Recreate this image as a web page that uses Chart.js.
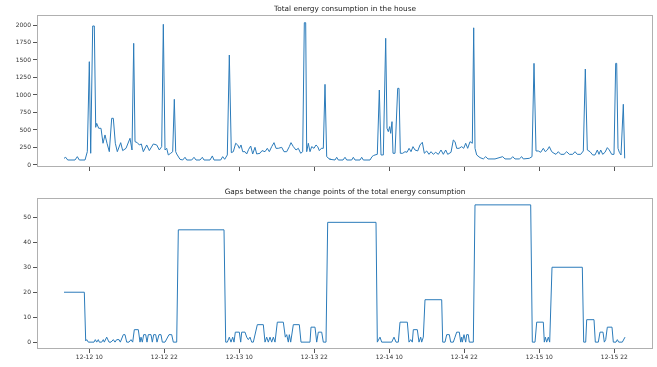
<!DOCTYPE html>
<html>
<head>
<meta charset="utf-8">
<script src="https://cdn.jsdelivr.net/npm/chart.js@4.4.0/dist/chart.umd.min.js"></script>
<style>
    body { margin: 0; background: #fff; }
    canvas { position: absolute; left: 0; }
    #energyChart { top: 0; }
    #gapChart { top: 180px; }
</style>
</head>
<body>
<canvas id="energyChart" width="657" height="180"></canvas>
<canvas id="gapChart" width="657" height="187"></canvas>
<script>
// Time axis is in hours counted from 12-12 00:00
const tickHours = [10, 22, 34, 46, 58, 70, 82, 94];
const tickLabels = ['12-12 10', '12-12 22', '12-13 10', '12-13 22', '12-14 10', '12-14 22', '12-15 10', '12-15 22'];

const energyTicks = [0, 250, 500, 750, 1000, 1250, 1500, 1750, 2000];
const gapTicks = [0, 10, 20, 30, 40, 50];

// Total energy consumption
const energyHours = [5.95, 6.22, 6.54, 7.71, 8.08, 8.40, 9.31, 9.68, 10.0, 10.22,
    10.54, 10.80, 11.02, 11.18, 11.50, 11.87, 12.19, 12.51, 12.83, 13.20,
    13.58, 13.84, 14.16, 14.48, 15.02, 15.34, 15.87, 16.51, 16.83, 17.10,
    17.31, 17.68, 18.0, 18.32, 18.64, 19.18, 19.60, 20.24, 20.78, 21.20,
    21.58, 21.84, 22.11, 22.38, 22.64, 23.02, 23.34, 23.60, 23.82, 23.98,
    24.51, 24.94, 25.31, 25.58, 26.38, 26.75, 27.07, 27.71, 28.08, 28.35,
    29.31, 29.68, 29.95, 31.02, 31.34, 31.66, 32.08, 32.40, 32.72, 33.04,
    33.42, 33.74, 34.0, 34.27, 34.54, 34.91, 35.18, 35.50, 35.82, 36.14,
    36.51, 36.78, 37.31, 37.63, 38.11, 38.48, 38.80, 39.18, 39.55, 39.87,
    40.24, 40.78, 41.15, 41.58, 42.0, 42.27, 42.64, 43.07, 43.44, 43.82,
    44.14, 44.40, 44.62, 44.78, 45.04, 45.31, 45.58, 45.95, 46.27, 46.54,
    46.80, 47.12, 47.44, 47.71, 47.98, 48.35, 48.51, 49.31, 49.58, 49.84,
    50.59, 50.91, 51.18, 51.98, 52.24, 52.51, 53.31, 53.58, 53.84, 54.91,
    55.23, 55.44, 55.71, 56.08, 56.40, 56.67, 57.04, 57.42, 57.63, 57.84,
    58.06, 58.22, 58.43, 58.59, 58.91, 59.34, 59.55, 59.76, 60.14, 60.51,
    60.83, 61.16, 61.47, 61.79, 62.11, 62.54, 62.91, 63.28, 63.60, 63.98,
    64.35, 64.67, 65.04, 65.42, 65.84, 66.27, 66.64, 67.02, 67.34, 67.87,
    68.24, 68.51, 68.78, 69.16, 69.58, 69.90, 70.22, 70.54, 70.91, 71.28,
    71.50, 71.71, 71.98, 72.51, 73.04, 73.42, 73.79, 74.11, 74.91, 76.14,
    76.51, 77.42, 77.74, 78.11, 78.80, 79.18, 79.44, 80.40, 80.83, 81.15,
    81.47, 81.84, 82.22, 82.64, 82.96, 83.28, 83.60, 83.98, 84.35, 84.67,
    85.04, 85.42, 85.95, 86.38, 86.80, 87.34, 87.71, 88.08, 88.62, 89.04,
    89.36, 89.68, 90.11, 90.54, 90.91, 91.28, 91.55, 91.82, 92.14, 92.51,
    92.88, 93.20, 93.58, 93.95, 94.22, 94.38, 94.59, 94.80, 95.07, 95.44,
    95.66];
const energyValues = [95, 110, 71, 71, 119, 71, 71, 190, 1476, 167,
    1986, 1986, 538, 595, 524, 524, 310, 429, 310, 190,
    667, 667, 310, 190, 319, 205, 238, 381, 214, 1738,
    333, 319, 286, 300, 190, 286, 205, 300, 286, 214,
    262, 2010, 214, 238, 143, 167, 190, 938, 190, 157,
    81, 71, 110, 71, 71, 110, 71, 71, 110, 71,
    71, 129, 71, 71, 119, 81, 143, 1571, 176, 190,
    310, 286, 238, 286, 190, 190, 157, 224, 271, 157,
    252, 157, 167, 205, 190, 238, 190, 262, 319, 238,
    238, 252, 190, 190, 262, 319, 262, 214, 238, 167,
    190, 2033, 2033, 190, 310, 190, 262, 238, 286, 262,
    205, 238, 238, 1152, 119, 90, 81, 71, 110, 71,
    71, 110, 71, 71, 110, 71, 71, 110, 71, 71,
    119, 133, 143, 152, 1071, 143, 143, 1810, 524, 476,
    548, 452, 619, 167, 167, 1095, 1095, 167, 167, 190,
    181, 238, 190, 262, 214, 200, 286, 324, 167, 200,
    152, 190, 152, 181, 152, 214, 152, 214, 152, 181,
    357, 333, 238, 238, 262, 238, 310, 238, 333, 310,
    1960, 238, 143, 105, 86, 119, 86, 86, 86, 119,
    86, 86, 119, 86, 86, 119, 86, 95, 119, 1452,
    200, 200, 181, 238, 190, 214, 262, 190, 167, 152,
    190, 152, 152, 190, 152, 152, 190, 152, 152, 200,
    1371, 214, 190, 143, 143, 214, 152, 214, 152, 181,
    248, 214, 152, 152, 1452, 1452, 238, 181, 143, 867,
    95];

// Gaps between change points
const gapHours = [5.95, 9.20, 9.42, 9.58, 9.84, 10.75, 10.96, 11.18, 11.44, 11.60,
    11.98, 12.24, 12.40, 12.78, 13.15, 13.47, 13.84, 14.11, 14.38, 14.75,
    14.96, 15.44, 15.71, 15.98, 16.35, 16.67, 16.94, 17.20, 17.84, 18.11,
    18.27, 18.48, 18.70, 19.02, 19.23, 19.44, 19.87, 20.08, 20.30, 20.62,
    20.83, 21.15, 21.47, 21.68, 22.11, 22.75, 23.18, 23.44, 23.98, 24.24,
    31.55, 31.82, 32.08, 32.40, 32.67, 32.94, 33.15, 33.36, 34.0, 34.22,
    34.38, 34.91, 35.18, 35.44, 35.71, 35.98, 36.24, 36.88, 37.84, 38.11,
    38.38, 38.64, 38.91, 39.18, 39.44, 39.71, 40.08, 41.04, 41.36, 41.58,
    41.84, 42.0, 42.22, 42.64, 43.60, 43.87, 45.31, 45.47, 46.11, 46.38,
    46.64, 47.18, 47.44, 47.87, 48.14, 55.87, 56.08, 56.51, 56.78, 58.38,
    58.75, 59.07, 59.44, 59.71, 60.88, 61.15, 61.42, 61.68, 61.84, 62.48,
    62.75, 63.02, 63.18, 63.44, 63.71, 66.38, 66.54, 66.91, 67.18, 67.60,
    67.82, 68.24, 68.51, 68.78, 69.20, 69.42, 69.58, 69.68, 69.95, 70.22,
    70.38, 70.64, 70.80, 71.44, 71.71, 80.62, 80.88, 81.31, 81.58, 82.64,
    82.80, 82.96, 83.18, 83.44, 83.66, 84.03, 88.88, 89.10, 89.42, 89.58,
    90.75, 90.96, 91.44, 91.71, 92.19, 92.40, 92.62, 92.88, 93.63, 93.84,
    94.27, 94.48, 94.70, 95.28, 95.71];
const gapValues = [20, 20, 0.5, 1, 0, 0, 1, 0, 1, 0,
    0, 1, 0, 2, 0, 0, 1, 0, 1, 1,
    0, 3, 3, 0, 0, 1, 0, 5, 5, 0,
    2, 0, 3, 3, 0, 3, 3, 0, 3, 3,
    0, 3, 3, 0, 0, 3, 3, 0, 0, 45,
    45, 0, 0, 2, 0, 2, 0, 4, 4, 0,
    4, 4, 2, 1, 2, 0, 0, 7, 7, 0,
    2, 0, 2, 0, 2, 0, 8, 8, 2, 3,
    0, 3, 0, 7, 7, 0, 0, 6, 6, 0,
    4, 4, 0, 0, 48, 48, 0, 2, 0, 0,
    2, 0, 0, 8, 8, 0, 1, 0, 5, 5,
    0, 2, 0, 2, 17, 17, 0, 0, 3, 3,
    0, 0, 2, 4, 4, 0, 2, 0, 3, 0,
    3, 3, 0, 0, 55, 55, 0, 0, 8, 8,
    0, 2, 0, 2, 0, 30, 30, 0, 0, 9,
    9, 0, 0, 4, 4, 0, 1, 6, 6, 0,
    0, 1, 0, 0, 2];

const FONT = 'DejaVu Sans';
const LINE = '#2b7bba';

// box round the plot area plus the title centred over it (matplotlib style)
const framePlugin = {
    id: 'frame',
    afterDraw(chart, args, opts) {
        const { ctx, chartArea: a } = chart;
        ctx.save();
        ctx.strokeStyle = '#b0b0b0';
        ctx.lineWidth = 1;
        ctx.strokeRect(Math.round(a.left) + 0.5, Math.round(a.top) + 0.5,
            Math.round(a.right - a.left) - 1, Math.round(a.bottom - a.top) - 1);
        ctx.fillStyle = '#222';
        ctx.font = '7.3px "' + FONT + '"';
        ctx.textAlign = 'center';
        ctx.textBaseline = 'middle';
        ctx.fillText(opts.text, (a.left + a.right) / 2, a.top - opts.gap);
        ctx.restore();
    }
};

const toPoints = (xs, ys) => xs.map((x, i) => ({ x: x, y: ys[i] }));

const xAxis = (showLabels, height) => ({
    type: 'linear',
    min: 1.63,
    max: 100.19,
    afterBuildTicks: (s) => { s.ticks = tickHours.map(v => ({ value: v })); },
    afterFit: (s) => { s.height = height; },
    grid: { drawOnChartArea: false, tickLength: 4, color: '#555' },
    border: { display: false },
    ticks: {
        display: showLabels,
        autoSkip: false,
        maxRotation: 0,
        padding: 1,
        color: '#333',
        font: { family: FONT, size: 6 },
        callback: (v) => tickLabels[tickHours.indexOf(v)]
    }
});

const yAxis = (min, max, ticks) => ({
    min: min,
    max: max,
    afterBuildTicks: (s) => { s.ticks = ticks.map(v => ({ value: v })); },
    afterFit: (s) => { s.width = 37; },
    grid: { drawOnChartArea: false, tickLength: 4, color: '#555' },
    border: { display: false },
    ticks: {
        padding: 2,
        color: '#333',
        font: { family: FONT, size: 6 },
        callback: (v) => String(v)
    }
});

const makeChart = (id, title, top, gap, points, xa, ya) => new Chart(document.getElementById(id), {
    type: 'line',
    data: {
        datasets: [{
            data: points,
            borderColor: LINE,
            borderWidth: 1,
            pointRadius: 0,
            tension: 0,
            fill: false
        }]
    },
    options: {
        responsive: false,
        animation: false,
        devicePixelRatio: 1,
        layout: { padding: { left: 0, right: 4, top: top, bottom: 0 } },
        scales: { x: xa, y: ya },
        plugins: {
            legend: { display: false },
            tooltip: { enabled: false },
            title: { display: false },
            frame: { text: title, gap: gap }
        }
    },
    plugins: [framePlugin]
});

makeChart('energyChart', 'Total energy consumption in the house', 15, 6,
    toPoints(energyHours, energyValues), xAxis(false, 13), yAxis(-29, 2143, energyTicks));

makeChart('gapChart', 'Gaps between the change points of the total energy consumption', 18, 6,
    toPoints(gapHours, gapValues), xAxis(true, 18), yAxis(-2.75, 57.75, gapTicks));
</script>
</body>
</html>
